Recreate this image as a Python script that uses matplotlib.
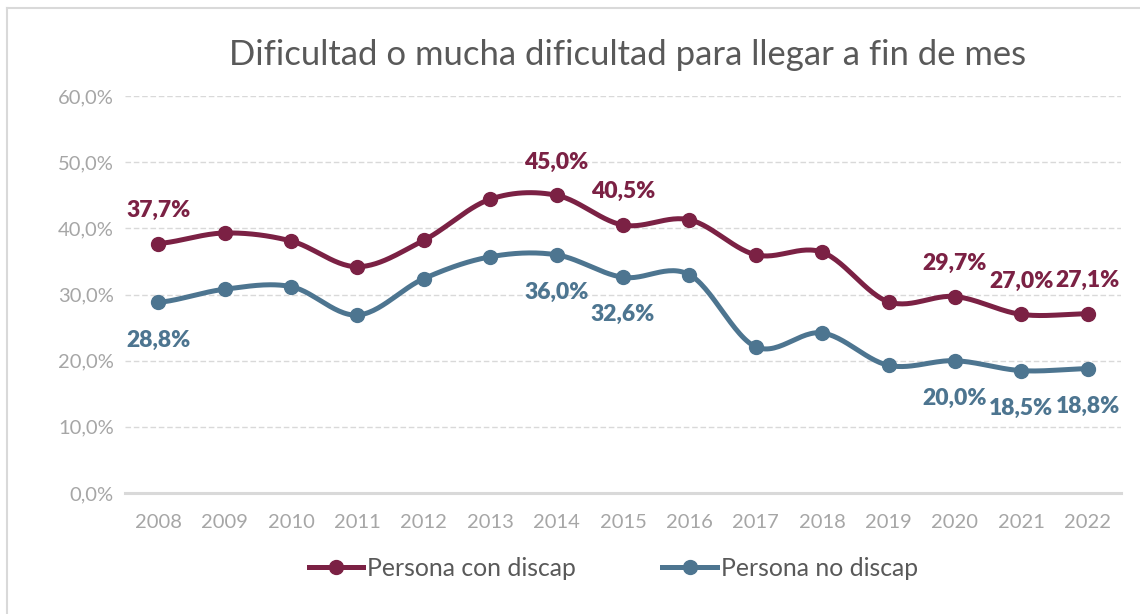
import numpy as np
import matplotlib.pyplot as plt
from matplotlib.lines import Line2D

years = ["2008", "2009", "2010", "2011", "2012", "2013", "2014", "2015",
         "2016", "2017", "2018", "2019", "2020", "2021", "2022"]
con_discap = [37.7, 39.3, 38.1, 34.2, 38.2, 44.4, 45.0, 40.5,
              41.3, 36.0, 36.4, 28.9, 29.7, 27.0, 27.1]
no_discap = [28.8, 30.8, 31.2, 26.9, 32.4, 35.7, 36.0, 32.6,
             33.0, 22.1, 24.2, 19.3, 20.0, 18.5, 18.8]
labelled = ["2008", "2014", "2015", "2020", "2021", "2022"]

red = "#7B2144"
blue = "#4D7590"
plt.rcParams['font.family'] = ['Lato', 'DejaVu Sans']


def smooth(y, n=30):
    # Excel-style smoothed line (Catmull-Rom through the points)
    y = np.asarray(y, dtype=float)
    x = np.arange(len(y), dtype=float)
    xs, ys = [], []
    for i in range(len(y) - 1):
        p0 = y[i - 1] if i > 0 else y[i]
        p3 = y[i + 2] if i + 2 < len(y) else y[i + 1]
        p1, p2 = y[i], y[i + 1]
        c1 = p1 + (p2 - p0) / 6
        c2 = p2 - (p3 - p1) / 6
        t = np.linspace(0, 1, n)
        ys.append((1 - t) ** 3 * p1 + 3 * (1 - t) ** 2 * t * c1 + 3 * (1 - t) * t ** 2 * c2 + t ** 3 * p2)
        xs.append(x[i] + t)
    return np.concatenate(xs), np.concatenate(ys)


fig = plt.figure(figsize=(11.4, 6.14), dpi=100)
ax = fig.add_axes([0.1096, 0.197, 0.8737, 0.6466])

x = np.arange(len(years))
for vals, col, off in [(con_discap, red, 24), (no_discap, blue, -27)]:
    sx, sy = smooth(vals)
    ax.plot(sx, sy, color=col, lw=3.6, solid_capstyle='round', zorder=3)
    ax.plot(x, vals, 'o', color=col, ms=10, zorder=4)
    for i, yr in enumerate(years):
        if yr in labelled:
            ax.annotate(f"{vals[i]:.1f}%".replace(".", ","), (i, vals[i]),
                        xytext=(0, off), textcoords='offset points',
                        ha='center', va='center', fontsize=16.5,
                        fontweight='heavy', color=col, zorder=5)

ax.set_xlim(-0.5, len(years) - 0.5)
ax.set_ylim(0, 60)
ax.set_xticks(x)
ax.set_xticklabels(years)
ax.set_yticks(range(0, 61, 10))
ax.set_yticklabels([f"{v},0%" for v in range(0, 61, 10)])
ax.tick_params(length=0, labelsize=14.5, colors="#A6A6A6")
ax.tick_params(axis='y', pad=8)
ax.tick_params(axis='x', pad=15)
ax.grid(axis='y', color="#D9D9D9", lw=1, ls=(0, (4, 2)))
ax.set_axisbelow(True)
for s in ['top', 'right', 'left']:
    ax.spines[s].set_visible(False)
ax.spines['bottom'].set_color("#D9D9D9")
ax.spines['bottom'].set_linewidth(2.2)

fig.text(0.5505, 0.91, "Dificultad o mucha dificultad para llegar a fin de mes",
         ha='center', va='center', fontsize=24.9, color="#595959")

handles = [Line2D([], [], color=red, lw=3.6, marker='o', ms=10),
           Line2D([], [], color=blue, lw=3.6, marker='o', ms=10)]
fig.legend(handles, ["Persona con discap", "Persona no discap"],
           loc='center', bbox_to_anchor=(0.538, 0.074), ncol=2, frameon=False,
           fontsize=17.8, labelcolor="#595959", handlelength=2.2,
           handletextpad=0.15, columnspacing=3.5)

# chart border (top and left visible)
fig.add_artist(Line2D([7 / 1140, 1], [1 - 7.5 / 614] * 2, color="#D9D9D9", lw=1.5))
fig.add_artist(Line2D([7 / 1140] * 2, [0, 1 - 7.5 / 614], color="#D9D9D9", lw=1.5))

fig.savefig("out.png", dpi=100)
